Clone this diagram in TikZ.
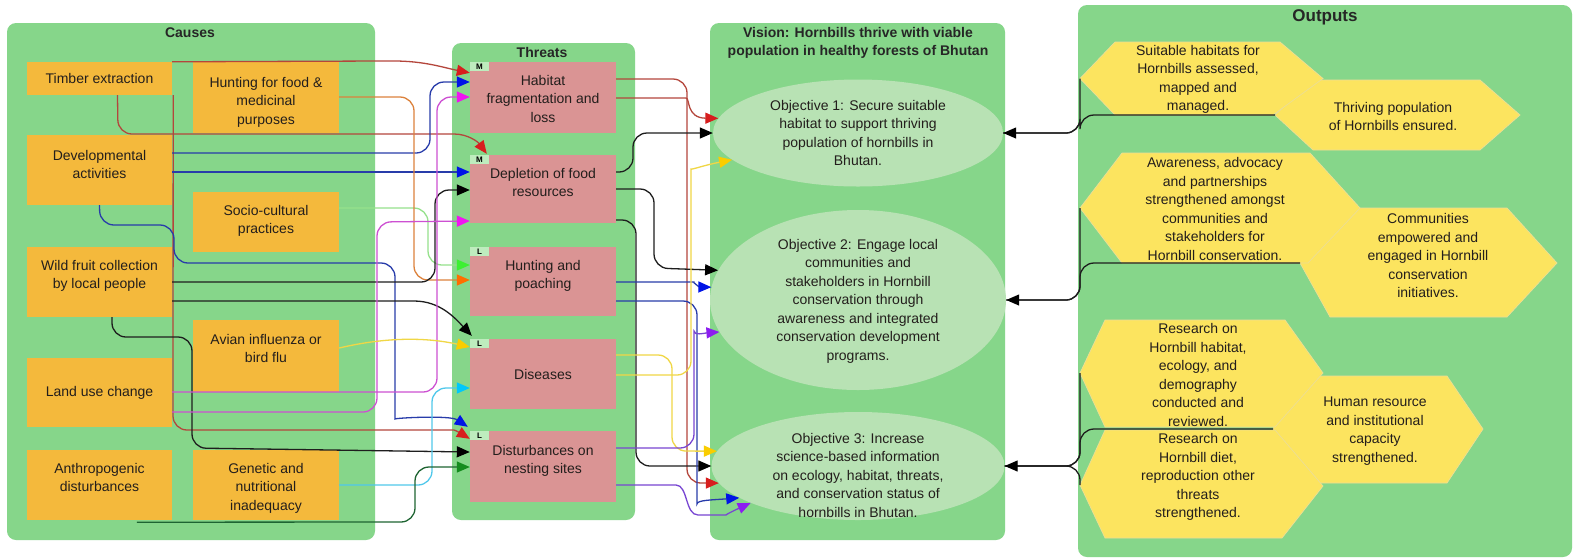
\documentclass[tikz,border=0pt]{standalone}
\usepackage{fontspec}
\setmainfont{Liberation Sans}
\usetikzlibrary{arrows.meta,shapes.geometric,calc}
\newcommand{\mytb}[4]{\parbox[c][#1pt][t]{#2pt}{\centering\vspace*{#3pt}#4\par}}

\definecolor{panel}{RGB}{134,214,138}
\definecolor{causeC}{RGB}{244,185,60}
\definecolor{threatC}{RGB}{218,148,148}
\definecolor{objC}{RGB}{184,226,180}
\definecolor{hexC}{RGB}{252,228,95}
\definecolor{hexL}{RGB}{236,222,150}
\definecolor{tagC}{RGB}{190,236,190}
\definecolor{txtC}{RGB}{35,30,28}
\definecolor{lRed}{RGB}{180,70,60}   \definecolor{tRed}{RGB}{215,30,30}
\definecolor{lBlue}{RGB}{40,60,170}  \definecolor{tBlue}{RGB}{0,20,230}
\definecolor{lMag}{RGB}{205,80,210}  \definecolor{tMag}{RGB}{240,20,240}
\definecolor{lOra}{RGB}{220,130,60}  \definecolor{tOra}{RGB}{255,110,0}
\definecolor{lBlk}{RGB}{30,30,30}
\definecolor{lLgr}{RGB}{150,225,140} \definecolor{tLgr}{RGB}{60,240,50}
\definecolor{lYel}{RGB}{240,215,70}  \definecolor{tYel}{RGB}{250,205,0}
\definecolor{lCya}{RGB}{80,200,235}  \definecolor{tCya}{RGB}{0,200,250}
\definecolor{lDgr}{RGB}{30,100,50}   \definecolor{tDgr}{RGB}{20,140,30}
\definecolor{lPur}{RGB}{120,70,210}  \definecolor{tPur}{RGB}{140,30,240}

\tikzset{
  basetxt/.style={font=\fontsize{14}{18.5}\selectfont, text=txtC},
  panelbox/.style={fill=panel, rounded corners=9, inner sep=0, draw=none},
  ptitle/.style={font=\bfseries\fontsize{14}{18}\selectfont, text=black!85},
  cause/.style={basetxt, fill=causeC, inner sep=0},
  threat/.style={basetxt, fill=threatC, inner sep=0},
  tag/.style={fill=tagC, inner sep=0, minimum width=19, minimum height=9, anchor=north west, font=\bfseries\fontsize{8}{8}\selectfont, text=black},
  obj/.style={ellipse, fill=objC, inner sep=0},
  otext/.style={basetxt, align=center},
  hexbox/.style={fill=hexC, draw=hexL, line width=0.7},
  htext/.style={basetxt, align=center},
  conn/.style={line width=1.3, rounded corners=14},
  arr/.style={-{Triangle[length=13pt,width=11pt,color=#1]}},
}

\begin{document}
\begin{tikzpicture}[x=1pt,y=-1pt]
\useasboundingbox (0,0) rectangle (1594,558);
\fill[white] (0,0) rectangle (1594,558);

% panels
\node[panelbox, minimum width=368, minimum height=517] (pCause) at (191,281.5) {};
\node[panelbox, minimum width=183, minimum height=477] (pThreat) at (543.5,281.5) {};
\node[panelbox, minimum width=295, minimum height=517] (pVision) at (857.5,281.5) {};
\node[panelbox, minimum width=494, minimum height=552] (pOut) at (1325,281) {};

\node[ptitle] (tCause) at (190,33) {Causes};
\node[ptitle] (tThreat) at (542,52) {Threats};
\node[ptitle, align=center] (tVision) at (858,43) {Vision: Hornbills thrive with viable\\population in healthy forests of Bhutan};
\node[ptitle, font=\bfseries\fontsize{17}{20}\selectfont] (tOut) at (1325,17) {Outputs};

% causes
\node[cause, minimum width=145, minimum height=33] (timber) at (99.5,78.5) {Timber extraction};
\node[cause] (hunt) at (266,97.5) {\mytb{71}{146}{15}{Hunting for food \&\\medicinal\\purposes}};
\node[cause] (dev) at (99.5,170) {\mytb{70}{145}{15}{Developmental\\activities}};
\node[cause] (socio) at (266,222) {\mytb{60}{146}{13}{Socio-cultural\\practices}};
\node[cause] (wild) at (99.5,282) {\mytb{70}{145}{13}{Wild fruit collection\\by local people}};
\node[cause] (avian) at (266,356) {\mytb{72}{146}{14}{Avian influenza or\\bird flu}};
\node[cause, minimum width=145, minimum height=69] (land) at (99.5,392.5) {Land use change};
\node[cause] (anthro) at (99.5,485) {\mytb{70}{145}{13}{Anthropogenic\\disturbances}};
\node[cause] (genetic) at (266,485) {\mytb{70}{146}{13}{Genetic and\\nutritional\\inadequacy}};

% threats
\node[threat] (habitat) at (543,97.5) {\mytb{71}{146}{13}{Habitat\\fragmentation and\\loss}};
\node[threat] (deplete) at (543,189) {\mytb{68}{146}{13}{Depletion of food\\resources}};
\node[threat] (huntp) at (543,281.5) {\mytb{69}{146}{13}{Hunting and\\poaching}};
\node[threat, minimum width=146, minimum height=70] (disease) at (543,374) {Diseases};
\node[threat] (disturb) at (543,466.5) {\mytb{71}{146}{14}{Disturbances on\\nesting sites}};

\node[tag] (tg1) at (habitat.north west) {M};
\node[tag] (tg2) at (deplete.north west) {M};
\node[tag] (tg3) at (huntp.north west) {L};
\node[tag] (tg4) at (disease.north west) {L};
\node[tag] (tg5) at (disturb.north west) {L};

% objectives
\node[obj, minimum width=290, minimum height=107] (obj1) at (858,133) {};
\node[obj, minimum width=296, minimum height=180] (obj2) at (858,300) {};
\node[obj, minimum width=293, minimum height=108] (obj3) at (858,466) {};
\node[otext] (ot1) at (858,133) {Objective 1: Secure suitable\\habitat to support thriving\\population of hornbills in\\Bhutan.};
\node[otext] (ot2) at (858,301) {Objective 2: Engage local\\communities and\\stakeholders in Hornbill\\conservation through\\awareness and integrated\\conservation development\\programs.};
\node[otext] (ot3) at (858,475) {Objective 3: Increase\\science-based information\\on ecology, habitat, threats,\\and conservation status of\\hornbills in Bhutan.};

% outputs (hexagons)
\path[hexbox] (1275,115) -- (1313,80) -- (1480,80) -- (1520,115) -- (1480,150) -- (1313,150) -- cycle;
\path[hexbox] (1080,78.5) -- (1115,42) -- (1280,42) -- (1323,78.5) -- (1273,115) -- (1115,115) -- cycle;
\path[hexbox] (1300,263) -- (1330,208) -- (1507,208) -- (1557,263) -- (1507,317) -- (1330,317) -- cycle;
\path[hexbox] (1080,208) -- (1122,153) -- (1310,153) -- (1360,208) -- (1308,263) -- (1122,263) -- cycle;
\path[hexbox] (1273,429) -- (1297,376) -- (1447,376) -- (1483,429) -- (1447,483) -- (1297,483) -- cycle;
\path[hexbox] (1080,373) -- (1105,320) -- (1285,320) -- (1323,373) -- (1275,427) -- (1105,427) -- cycle;
\path[hexbox] (1080,485) -- (1105,430) -- (1275,430) -- (1323,486) -- (1282,538) -- (1105,538) -- cycle;
\coordinate (h1L) at (1080,78.5);
\coordinate (h2L) at (1275,115);
\coordinate (h3L) at (1080,208);
\coordinate (h4L) at (1300,263);
\coordinate (h5L) at (1080,373);
\coordinate (h6L) at (1080,485);
\coordinate (h7L) at (1273,429);

\node[htext] (o1) at (1198,79.5) {Suitable habitats for\\Hornbills assessed,\\mapped and\\managed.};
\node[htext] (o2) at (1393,116.5) {Thriving population\\of Hornbills ensured.};
\node[htext] (o3) at (1215,209) {Awareness, advocacy\\and partnerships\\strengthened amongst\\communities and\\stakeholders for\\Hornbill conservation.};
\node[htext] (o4) at (1428,255.5) {Communities\\empowered and\\engaged in Hornbill\\conservation\\initiatives.};
\node[htext] (o5) at (1198,375) {Research on\\Hornbill habitat,\\ecology, and\\demography\\conducted and\\reviewed.};
\node[htext] (o6) at (1198,477) {Research on\\Hornbill diet,\\reproduction other\\threats\\strengthened.};
\node[htext] (o7) at (1375,431) {Human resource\\and institutional\\capacity\\strengthened.};

% ---- causes -> threats
\draw[conn, lRed, arr=tRed] (timber.north east) -- (380,61) .. controls (425,61) and (445,68) .. ($(habitat.north west)+(0,11)$);
\draw[conn, lRed, arr=tRed] ($(timber.south)+(18,0)$) -- (118,134) -- (440,134) .. controls (468,134) and (478,142) .. ($(deplete.north west)+(17,-1)$);
\draw[conn, lRed, arr=tRed] ($(timber.south east)+(1,0)$) -- (173,430) -- (440,430) .. controls (455,430) and (462,434) .. ($(disturb.north west)+(0,8)$);
\draw[conn, lBlue, arr=tBlue] (dev.east |- 0,153) -- (430,153) -- (430,82) -- (habitat.west |- 0,82);
\draw[conn, lBlue, arr=tBlue] (dev.east |- 0,172) -- (deplete.west |- 0,172);
\draw[conn, lBlue, arr=tBlue] (dev.south) -- (100,225) -- (174,225) -- (174,263) -- (395,263) -- (395,405) .. controls (395,418) and (450,415) .. ($(disturb.north west)+(-2,-4)$);
\draw[conn, lLgr, arr=tLgr] (socio.east |- 0,208) -- (428,208) -- (428,265) -- (huntp.west |- 0,265);
\draw[conn, lOra, arr=tOra] (hunt.east |- 0,97) -- (414,97) -- (414,280) -- (huntp.west |- 0,280);
\draw[conn, lBlk, arr=black] (wild.east |- 0,282) -- (435,282) -- (435,190) -- (deplete.west |- 0,190);
\draw[conn, lBlk, arr=black] (wild.east |- 0,301) -- (400,301) .. controls (440,301) and (455,318) .. ($(disease.north west)+(2,-3)$);
\draw[conn, lBlk, arr=black] ($(wild.south)+(12.5,0)$) -- (112,337) -- (192,337) -- (192,448) -- (disturb.west |- 0,452);
\draw[conn, lMag, arr=tMag] (land.east |- 0,392) -- (437,392) -- (437,97) -- (habitat.west |- 0,97);
\draw[conn, lMag, arr=tMag] (land.east |- 0,412) -- (377,412) -- (377,222) -- (deplete.west |- 0,221);
\draw[conn, lYel, arr=tYel] (avian.east |- 0,348) .. controls (390,336) and (430,338) .. (disease.west |- 0,347);
\draw[conn, lCya, arr=tCya] (genetic.east |- 0,485) -- (432,485) -- (432,388) -- (disease.west |- 0,388);
\draw[conn, lDgr, arr=tDgr] ($(anthro.south west)+(110,2)$) -- (415,522) -- (415,467) -- (disturb.west |- 0,467);

% ---- threats -> objectives
\draw[conn, lRed, arr=tRed] (habitat.east |- 0,98) -- (672,98) .. controls (690,98) and (686,118) .. (obj1.174);
\draw[conn, lRed, arr=tRed] (habitat.east |- 0,79) -- (687,79) -- (687,483) -- (obj3.187);
\draw[conn, lBlk, arr=black] (deplete.east |- 0,172) -- (633,172) -- (633,133) -- (obj1.180);
\draw[conn, lBlk, arr=black] (deplete.east |- 0,189) -- (654,189) -- (654,268) -- (obj2.168);
\draw[conn, lBlk, arr=black] (deplete.east |- 0,220) -- (636,220) -- (636,466) -- (obj3.180);
\draw[conn, lBlue, arr=tBlue] (huntp.east |- 0,282) -- (680,282) .. controls (692,282) and (700,287) .. (obj2.175);
\draw[conn, lBlue, arr=tBlue] (huntp.east |- 0,301) -- (697,301) -- (697,490) .. controls (697,500) and (712,500) .. (obj3.195);
\draw[conn, lYel, arr=tYel] (disease.east |- 0,375) -- (691,375) -- (691,183) .. controls (691,170) and (705,165) .. (obj1.192);
\draw[conn, lYel, arr=tYel] (disease.east |- 0,355) -- (672,355) -- (672,451) -- (obj3.174);
\draw[conn, lPur, arr=tPur] (disturb.east |- 0,448) -- (694,448) -- (694,345) .. controls (694,336) and (705,333) .. (obj2.193);
\draw[conn, lPur, arr=tPur] (disturb.east |- 0,485) -- (662,485) .. controls (688,485) and (685,515) .. (712,515) .. controls (725,515) and (735,510) .. (obj3.199);

% ---- outputs -> objectives
\draw[conn, lBlk] (h2L) -- (h2L -| h1L) -- (h1L |- obj1.east) -- (obj1.east);
\draw[conn, lBlk, arr=black] (h1L) -- (h1L |- obj1.east) -- (obj1.east);
\draw[conn, lBlk] (h4L) -- (h4L -| h3L) -- (h3L |- obj2.east) -- (obj2.east);
\draw[conn, lBlk, arr=black] (h3L) -- (h3L |- obj2.east) -- (obj2.east);
\draw[conn, lBlk] (h7L) -- (h7L -| h5L) -- (h5L |- obj3.east) -- (obj3.east);
\draw[conn, lBlk] (h6L) -- (h6L |- obj3.east) -- (obj3.east);
\draw[conn, lBlk, arr=black] (h5L) -- (h5L |- obj3.east) -- (obj3.east);
\end{tikzpicture}
\end{document}
